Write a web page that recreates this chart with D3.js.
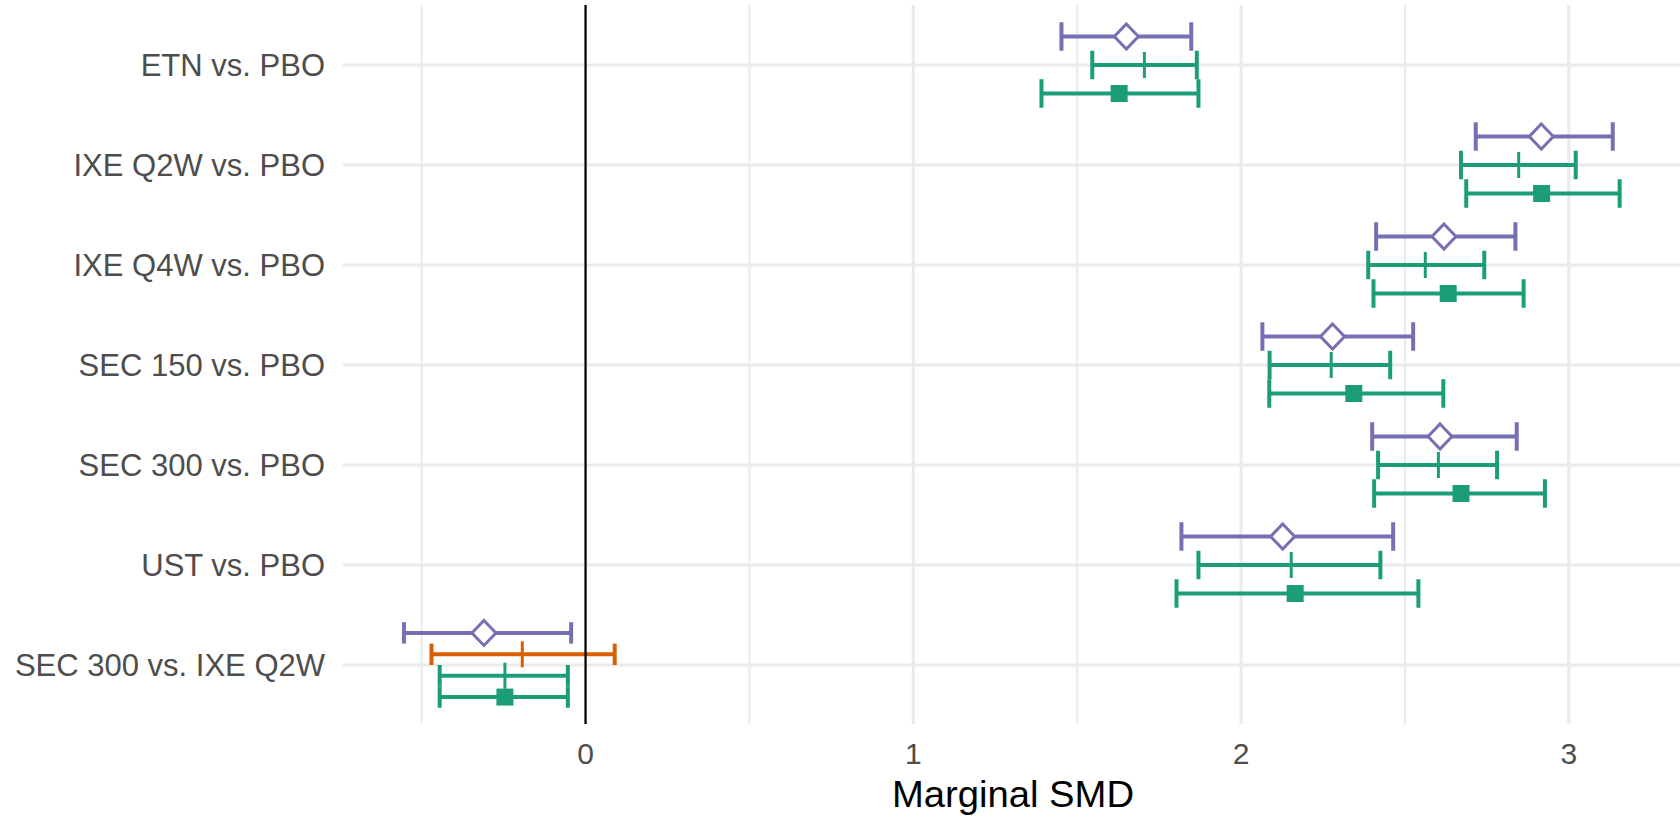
<!DOCTYPE html>
<html>
<head>
<meta charset="utf-8">
<script src="https://cdn.jsdelivr.net/npm/d3@7"></script>
<style>
  body { margin: 0; background: #fff; }
  svg { display: block; font-family: "Liberation Sans", Arial, sans-serif; }
</style>
</head>
<body>
<div id="chart"></div>
<script>
// comparisons, top to bottom
var categories = ['ETN vs. PBO', 'IXE Q2W vs. PBO', 'IXE Q4W vs. PBO', 'SEC 150 vs. PBO',
                  'SEC 300 vs. PBO', 'UST vs. PBO', 'SEC 300 vs. IXE Q2W'];

// purple, open diamond
var purpleEst = [1.650, 2.916, 2.619, 2.279, 2.607, 2.127, -0.310];
var purpleLo  = [1.452, 2.716, 2.412, 2.065, 2.400, 1.818, -0.554];
var purpleHi  = [1.848, 3.134, 2.837, 2.525, 2.841, 2.464, -0.044];

// orange, tick (only for the last comparison)
var orangeEst = [null, null, null, null, null, null, -0.193];
var orangeLo  = [null, null, null, null, null, null, -0.470];
var orangeHi  = [null, null, null, null, null, null, 0.089];

// green, tick
var greenTickEst = [1.705, 2.847, 2.562, 2.275, 2.602, 2.153, -0.246];
var greenTickLo  = [1.546, 2.671, 2.388, 2.087, 2.418, 1.870, -0.445];
var greenTickHi  = [1.865, 3.021, 2.742, 2.455, 2.781, 2.425, -0.054];

// green, filled square
var greenSqEst = [1.628, 2.917, 2.632, 2.344, 2.671, 2.165, -0.246];
var greenSqLo  = [1.391, 2.687, 2.404, 2.086, 2.406, 1.803, -0.445];
var greenSqHi  = [1.870, 3.155, 2.862, 2.617, 2.927, 2.541, -0.054];

var xMajor = [0, 1, 2, 3];
var xMinor = [-0.5, 0.5, 1.5, 2.5];

var series = [
  { key: 'purple', color: '#7570B3', shape: 'diamond', est: purpleEst, lo: purpleLo, hi: purpleHi },
  { key: 'orange', color: '#D95F02', shape: 'tick', est: orangeEst, lo: orangeLo, hi: orangeHi },
  { key: 'greenTick', color: '#1B9E77', shape: 'tick', est: greenTickEst, lo: greenTickLo, hi: greenTickHi },
  { key: 'greenSq', color: '#1B9E77', shape: 'square', est: greenSqEst, lo: greenSqLo, hi: greenSqHi }
];

var width = 1680, height = 818;
var panel = { left: 343, right: 1677, top: 5, bottom: 724 };

var svg = d3.select('#chart').append('svg')
  .attr('width', width).attr('height', height);

var xScale = d3.scaleLinear()
  .domain([-0.74, 3.33])
  .range([panel.left, panel.right]);

var yScale = d3.scalePoint()
  .domain(categories)
  .range([65, 665]);
var step = yScale.step();
var dodgeWidth = step * 0.855;

// grid
var grid = svg.append('g');
grid.selectAll('line.minor')
  .data(xMinor).enter().append('line')
  .attr('class', 'minor')
  .attr('x1', function(d){ return xScale(d); })
  .attr('x2', function(d){ return xScale(d); })
  .attr('y1', panel.top).attr('y2', panel.bottom)
  .attr('stroke', '#EBEBEB').attr('stroke-width', 2);
grid.selectAll('line.majorx')
  .data(xMajor).enter().append('line')
  .attr('class', 'majorx')
  .attr('x1', function(d){ return xScale(d); })
  .attr('x2', function(d){ return xScale(d); })
  .attr('y1', panel.top).attr('y2', panel.bottom)
  .attr('stroke', '#EBEBEB').attr('stroke-width', 3.2);
grid.selectAll('line.majory')
  .data(categories).enter().append('line')
  .attr('class', 'majory')
  .attr('x1', panel.left).attr('x2', panel.right + 3)
  .attr('y1', function(d){ return yScale(d); })
  .attr('y2', function(d){ return yScale(d); })
  .attr('stroke', '#EBEBEB').attr('stroke-width', 3.2);

// build dodged rows
var rows = [];
categories.forEach(function(cat, i) {
  var present = series.filter(function(s){ return s.est[i] !== null; });
  var n = present.length;
  var w = dodgeWidth / n;
  present.forEach(function(s, j) {
    rows.push({
      cat: cat, s: s, est: s.est[i], lo: s.lo[i], hi: s.hi[i],
      y: yScale(cat) - dodgeWidth / 2 + w * (j + 0.5),
      cap: w
    });
  });
});

var marks = svg.append('g');
rows.forEach(function(r) {
  var g = marks.append('g').attr('stroke', r.s.color);
  g.append('line')
    .attr('x1', xScale(r.lo)).attr('x2', xScale(r.hi))
    .attr('y1', r.y).attr('y2', r.y)
    .attr('stroke-width', 4);
  [r.lo, r.hi].forEach(function(v) {
    g.append('line')
      .attr('x1', xScale(v)).attr('x2', xScale(v))
      .attr('y1', r.y - r.cap / 2).attr('y2', r.y + r.cap / 2)
      .attr('stroke-width', 4);
  });
  var cx = xScale(r.est);
  if (r.s.shape === 'diamond') {
    g.append('path')
      .attr('d', 'M' + cx + ',' + (r.y - 12.5) + 'L' + (cx + 12) + ',' + r.y +
                 'L' + cx + ',' + (r.y + 12.5) + 'L' + (cx - 12) + ',' + r.y + 'Z')
      .attr('fill', '#fff')
      .attr('stroke-width', 3);
  } else if (r.s.shape === 'square') {
    g.append('rect')
      .attr('x', cx - 8.5).attr('y', r.y - 8.5)
      .attr('width', 17).attr('height', 17)
      .attr('fill', r.s.color).attr('stroke', 'none');
  } else {
    g.append('line')
      .attr('x1', cx).attr('x2', cx)
      .attr('y1', r.y - 13).attr('y2', r.y + 13)
      .attr('stroke-width', 3);
  }
});

// zero reference line
svg.append('line')
  .attr('x1', xScale(0)).attr('x2', xScale(0))
  .attr('y1', panel.top).attr('y2', panel.bottom)
  .attr('stroke', '#000').attr('stroke-width', 2.2);

// y axis labels
svg.append('g')
  .selectAll('text')
  .data(categories).enter().append('text')
  .attr('x', panel.left - 18)
  .attr('y', function(d){ return yScale(d) + 11; })
  .attr('text-anchor', 'end')
  .attr('font-size', 31)
  .attr('fill', '#4D4D4D')
  .text(function(d){ return d; });

// x axis labels
svg.append('g')
  .selectAll('text')
  .data(xMajor).enter().append('text')
  .attr('x', function(d){ return xScale(d); })
  .attr('y', 764)
  .attr('text-anchor', 'middle')
  .attr('font-size', 30)
  .attr('fill', '#4D4D4D')
  .text(function(d){ return d; });

svg.append('text')
  .attr('x', 1013)
  .attr('y', 807)
  .attr('text-anchor', 'middle')
  .attr('font-size', 36)
  .attr('textLength', 242)
  .attr('lengthAdjust', 'spacingAndGlyphs')
  .attr('fill', '#000')
  .text('Marginal SMD');
</script>
</body>
</html>
